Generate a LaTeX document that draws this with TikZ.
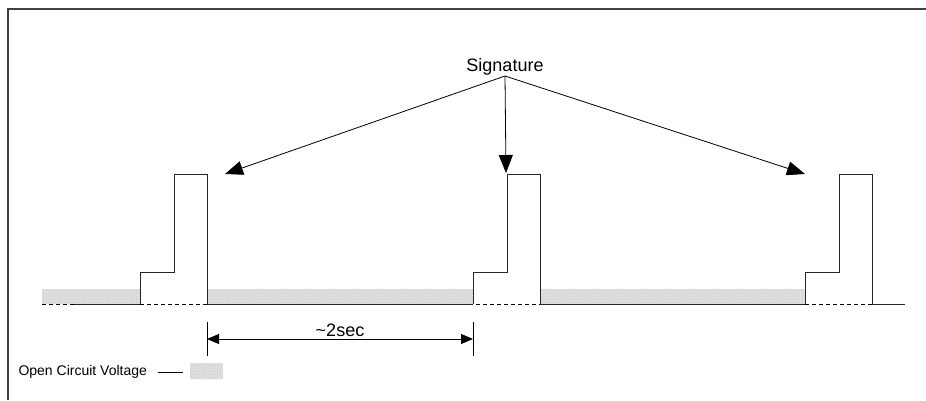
\documentclass[tikz,border=0pt]{standalone}
\usepackage{fontspec}
\setmainfont{Liberation Sans}
\usetikzlibrary{arrows.meta,patterns}
\tikzset{
  sigline/.style={line width=1pt, black!85},
  ocvband/.style={fill=black!12, postaction={pattern=crosshatch dots, pattern color=black!22}, draw=none},
  bigtip/.style={-{Triangle[length=18pt,width=14pt]}, line width=0.8pt},
  dimtip/.style={{Triangle[length=12pt,width=10pt]}-{Triangle[length=12pt,width=10pt]}, line width=0.8pt},
  bigfont/.style={font=\fontsize{18}{21}\selectfont},
  smallfont/.style={font=\fontsize{14}{16}\selectfont}
}
\begin{document}
\begin{tikzpicture}[x=1pt,y=-1pt]
    \useasboundingbox (0,0) rectangle (926,400);

    % frame
    \draw[line width=1.3pt, black!75] (8,400) -- (8,9) -- (926,9);

    % open circuit voltage
    \fill[ocvband] (42,289) rectangle (140,304);
    \fill[ocvband] (207,289) rectangle (473,304);
    \fill[ocvband] (540,289) rectangle (805,304);

    % zero line
    \draw[line width=0.8pt, dash pattern=on 4pt off 3pt] (42,304) -- (905,304);

    % pulses
    \foreach \p in {140,473,805} {
        \draw[sigline] (\p,304) -- (\p,272) -- (\p+34,272) -- (\p+34,174) -- (\p+67,174) -- (\p+67,304);
    }
    \draw[sigline] (74,304) -- (140,304)
                   (207,304) -- (473,304)
                   (540,304) -- (805,304)
                   (872,304) -- (905,304);

    % signature
    \node[bigfont] (sig) at (505,67) {Signature};
    \coordinate (sigfoot) at (505,76);
    \coordinate (tipA) at (225,174);
    \coordinate (tipB) at (506,173);
    \coordinate (tipC) at (805,174);
    \draw[bigtip] (sigfoot) -- (tipA);
    \draw[bigtip] (sigfoot) -- (tipB);
    \draw[bigtip] (sigfoot) -- (tipC);

    % period
    \coordinate (perL) at (207,339);
    \coordinate (perR) at (473,339);
    \draw[line width=0.8pt] (207,322) -- (207,356)
                            (473,322) -- (473,356);
    \draw[dimtip] (perL) -- (perR);
    \node[bigfont] (per) at (340,330) {\textasciitilde 2sec};

    % legend
    \node[smallfont, anchor=west] (ocvtext) at (15,372) {Open Circuit Voltage};
    \coordinate (legA) at (158,372);
    \coordinate (legB) at (183,372);
    \draw[line width=0.8pt] (legA) -- (legB);
    \fill[ocvband] (190,363) rectangle (223,379);

\end{tikzpicture}
\end{document}
